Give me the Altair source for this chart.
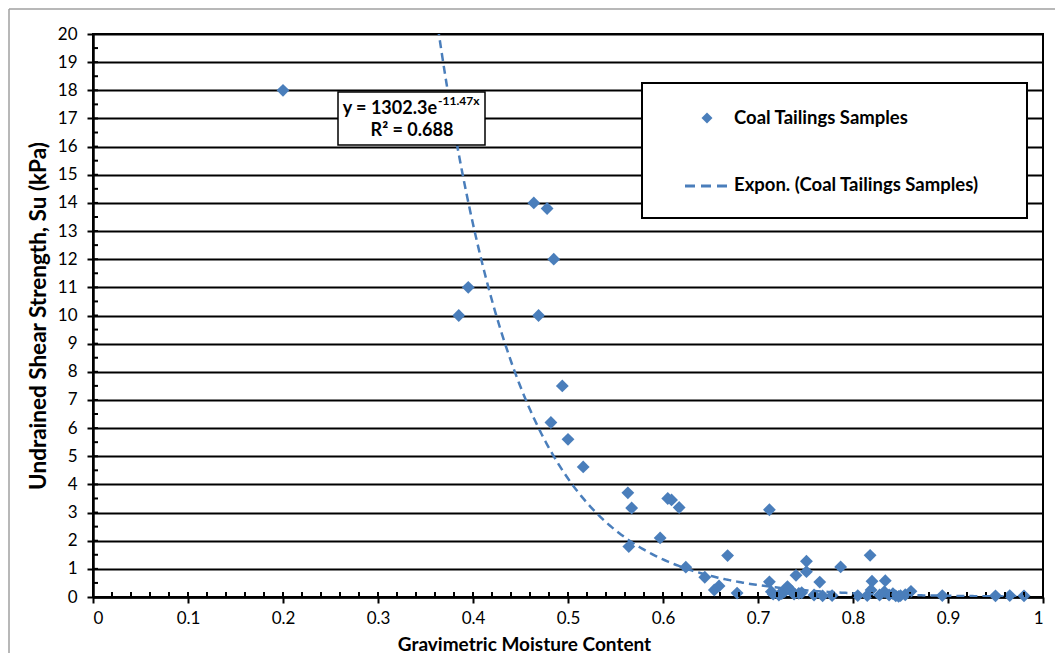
import altair as alt
import pandas as pd

# ---- data ----
MOISTURE = [0.200, 0.464, 0.478, 0.485, 0.395, 0.385, 0.469, 0.494, 0.482, 0.500,
            0.516, 0.563, 0.567, 0.605, 0.609, 0.617, 0.597, 0.564, 0.668, 0.624,
            0.712, 0.818, 0.751, 0.787, 0.751, 0.740, 0.644, 0.765, 0.712, 0.820,
            0.834, 0.659, 0.654, 0.678, 0.714, 0.722, 0.728, 0.731, 0.736, 0.743,
            0.759, 0.768, 0.778, 0.805, 0.815, 0.819, 0.828, 0.833, 0.838, 0.845,
            0.850, 0.855, 0.861, 0.894, 0.950, 0.965, 0.980, 0.725, 0.733, 0.738,
            0.746, 0.716, 0.842, 0.848]
STRENGTH = [18.0, 14.0, 13.8, 12.0, 11.0, 10.0, 10.0, 7.5, 6.2, 5.6,
            4.62, 3.7, 3.16, 3.5, 3.45, 3.18, 2.1, 1.79, 1.47, 1.06,
            3.1, 1.48, 1.27, 1.07, 0.9, 0.77, 0.70, 0.53, 0.54, 0.56,
            0.58, 0.39, 0.25, 0.14, 0.19, 0.07, 0.19, 0.37, 0.19, 0.13,
            0.07, 0.04, 0.05, 0.05, 0.05, 0.25, 0.07, 0.19, 0.07, 0.04,
            0.05, 0.08, 0.20, 0.05, 0.04, 0.05, 0.04, 0.12, 0.28, 0.10,
            0.15, 0.10, 0.12, 0.02]

# Trendline as stated on the chart: y = 1302.3 e^(-11.47x)
TREND_A = 1302.3
TREND_B = -11.47
TREND_X_START = 0.20
TREND_X_STOP = 0.981

X_TICKS = [0, 0.1, 0.2, 0.3, 0.4, 0.5, 0.6, 0.7, 0.8, 0.9, 1]
Y_TICKS = list(range(0, 21))
X_MINOR = [round(i * 0.02, 2) for i in range(51)]
Y_MINOR = [i * 0.5 for i in range(41)]

SERIES_NAME = "Coal Tailings Samples"
TREND_NAME = "Expon. (Coal Tailings Samples)"
EQ_MAIN = "y = 1302.3e"
EQ_SUP = "-11.47x"
EQ_R2 = "R² = 0.688"
X_TITLE = "Gravimetric Moisture Content"
Y_TITLE = "Undrained Shear Strength, Su (kPa)"

BLUE = "#4A7EBB"
FONT = "Lato"
W, H = 950, 563

df = pd.DataFrame({"x": MOISTURE, "y": STRENGTH})

xscale = alt.Scale(domain=[0, 1], nice=False, zero=False)
yscale = alt.Scale(domain=[0, 20], nice=False)

xaxis = alt.Axis(values=X_TICKS, format="~g", title=X_TITLE, grid=False,
                 tickSize=6, tickWidth=2, domainWidth=2.5, labelPadding=7,
                 labelFontSize=17, labelOverlap=False,
                 titleFontSize=19, titleFontWeight="bold",
                 titleX=431, titleY=53, titleBaseline="alphabetic", titleAlign="center")
yaxis = alt.Axis(values=Y_TICKS, title=Y_TITLE, grid=True, gridColor="black", gridWidth=2,
                 tickSize=6, tickWidth=2, domainWidth=2.5, labelPadding=10,
                 labelFontSize=17, labelOverlap=False,
                 titleFontSize=22.5, titleFontWeight="bold", titlePadding=7)

one = alt.Data(values=[{}])

# outer chart-area frame (only its top and left edges fall inside the picture)
frame_top = alt.Chart(one).mark_rule(color="#A0A0A0", strokeWidth=1.5).encode(
    x=alt.value(-84), x2=alt.value(3000), y=alt.value(-25))
frame_left = alt.Chart(one).mark_rule(color="#A0A0A0", strokeWidth=1.5).encode(
    x=alt.value(-84), y=alt.value(-25), y2=alt.value(3000))

points = alt.Chart(df).mark_point(shape="diamond", filled=True, size=165, color=BLUE, opacity=1).encode(
    x=alt.X("x:Q", scale=xscale, axis=xaxis),
    y=alt.Y("y:Q", scale=yscale, axis=yaxis))

trend = alt.Chart(alt.sequence(TREND_X_START, TREND_X_STOP, 0.002, as_="x")).transform_calculate(
    y=f"{TREND_A} * exp({TREND_B} * datum.x)"
).mark_line(color=BLUE, strokeDash=[8, 5], strokeWidth=2.5, clip=True).encode(
    x=alt.X("x:Q", scale=xscale, axis=xaxis), y=alt.Y("y:Q", scale=yscale, axis=yaxis))

xin = alt.Chart(alt.Data(values=[{"x": v} for v in X_MINOR])).mark_rule(color="black", strokeWidth=2).encode(
    x=alt.X("x:Q", scale=xscale, axis=xaxis), y=alt.value(H - 5), y2=alt.value(H))
yin = alt.Chart(alt.Data(values=[{"y": v} for v in Y_MINOR])).mark_rule(color="black", strokeWidth=2).encode(
    y=alt.Y("y:Q", scale=yscale, axis=yaxis), x=alt.value(0), x2=alt.value(5))

# equation label
eq_box = alt.Chart(one).mark_rect(fill="white", stroke="black", strokeWidth=1.5).encode(
    x=alt.value(245), x2=alt.value(392), y=alt.value(58), y2=alt.value(111))
eq_main = alt.Chart(one).mark_text(text=EQ_MAIN, font=FONT, fontSize=18, fontWeight="bold",
                                    align="right", baseline="middle", color="black").encode(
    x=alt.value(344), y=alt.value(75))
eq_sup = alt.Chart(one).mark_text(text=EQ_SUP, font=FONT, fontSize=12, fontWeight="bold",
                                   align="left", baseline="middle", color="black").encode(
    x=alt.value(345), y=alt.value(67))
eq_r2 = alt.Chart(one).mark_text(text=EQ_R2, font=FONT, fontSize=18, fontWeight="bold",
                                  align="center", baseline="middle", color="black").encode(
    x=alt.value(319), y=alt.value(97))

# legend
lg_box = alt.Chart(one).mark_rect(fill="white", stroke="black", strokeWidth=2).encode(
    x=alt.value(549), x2=alt.value(934), y=alt.value(49), y2=alt.value(184))
lg_sym = alt.Chart(one).mark_point(shape="diamond", filled=True, size=120, color=BLUE, opacity=1).encode(
    x=alt.value(614), y=alt.value(84))
lg_dash = alt.Chart(one).mark_rule(color=BLUE, strokeDash=[10, 6], strokeWidth=3).encode(
    x=alt.value(592), x2=alt.value(635), y=alt.value(152))
lg_t1 = alt.Chart(one).mark_text(text=SERIES_NAME, font=FONT, fontSize=18.5, fontWeight="bold",
                                  align="left", baseline="middle", color="black").encode(
    x=alt.value(641), y=alt.value(84))
lg_t2 = alt.Chart(one).mark_text(text=TREND_NAME, font=FONT, fontSize=18.5, fontWeight="bold",
                                  align="left", baseline="middle", color="black").encode(
    x=alt.value(641), y=alt.value(151))

chart = alt.layer(
    points, frame_top, frame_left, xin, yin, trend, eq_box, eq_main, eq_sup, eq_r2,
    lg_box, lg_sym, lg_dash, lg_t1, lg_t2
).properties(
    width=W, height=H,
    autosize=alt.AutoSizeParams(type="none"),
    padding={"left": 85, "top": 26, "right": 12, "bottom": 56},
    background="white",
).configure_view(
    stroke="black", strokeWidth=2
).configure_axis(
    labelFont=FONT, titleFont=FONT, labelColor="black", titleColor="black",
    domainColor="black", tickColor="black"
)

chart.save("out.html", embed_options={"renderer": "svg", "actions": False})
